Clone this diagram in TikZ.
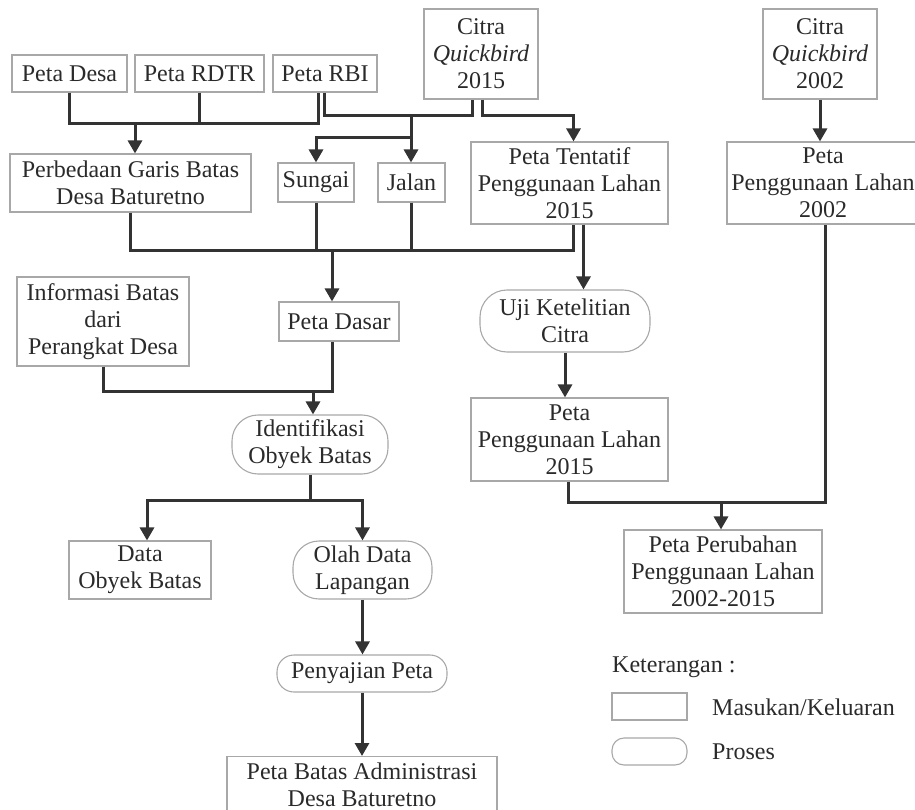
\documentclass[tikz,border=0pt]{standalone}
\usepackage{fontspec}
\setmainfont{Liberation Serif}
\usetikzlibrary{arrows.meta,calc}
\definecolor{boxc}{HTML}{A8A8A8}
\definecolor{linec}{HTML}{333333}
\definecolor{txtc}{HTML}{2A2A2A}
\begin{document}
\begin{tikzpicture}[x=1pt,y=-1pt,
  io/.style={draw=boxc, line width=1.1pt, align=center, inner sep=0pt, text=txtc,
    font=\fontsize{24}{27}\selectfont},
  pr/.style={io, rounded corners=#1},
  ln/.style={draw=linec, line width=3pt},
  arr/.style={ln, -{Triangle[length=13pt,width=14pt]}},
  lbl/.style={anchor=west, inner sep=0pt, text=txtc, font=\fontsize{24}{27}\selectfont}]
\useasboundingbox (0,0) rectangle (915,810);

% nodes
\node[io, minimum width=115, minimum height=37] (desa) at (69.5,73.5) {Peta Desa};
\node[io, minimum width=129, minimum height=37] (rdtr) at (199.5,73.5) {Peta RDTR};
\node[io, minimum width=104, minimum height=37] (rbi) at (325,73.5) {Peta RBI};
\node[io, minimum width=114, minimum height=90] (citra15) at (481,54) {Citra\\\textit{Quickbird}\\2015};
\node[io, minimum width=114, minimum height=90] (citra02) at (820,54) {Citra\\\textit{Quickbird}\\2002};
\node[io, minimum width=241, minimum height=58] (beda) at (130.5,183) {Perbedaan Garis Batas\\Desa Baturetno};
\node[io, minimum width=76, minimum height=39] (sungai) at (316,182.5) {Sungai};
\node[io, minimum width=67, minimum height=39] (jalan) at (411.5,182.5) {Jalan};
\node[io, minimum width=197, minimum height=82] (tentatif) at (569.5,183) {Peta Tentatif\\Penggunaan Lahan\\2015};
\node[io, minimum width=192, minimum height=82] (pl02) at (823,183) {Peta\\Penggunaan Lahan\\2002};
\node[io, minimum width=120, minimum height=39] (dasar) at (339,321.5) {Peta Dasar};
\node[io, minimum width=172, minimum height=89] (info) at (103,321.5) {Informasi Batas\\dari\\Perangkat Desa};
\node[pr=27pt, minimum width=170, minimum height=62] (uji) at (565,321) {Uji Ketelitian\\Citra};
\node[pr=26pt, minimum width=156, minimum height=59] (ident) at (310,444.5) {Identifikasi\\Obyek Batas};
\node[io, minimum width=197, minimum height=83] (pl15) at (569.5,439.5) {Peta\\Penggunaan Lahan\\2015};
\node[io, minimum width=142, minimum height=58] (data) at (140,570) {Data\\Obyek Batas};
\node[pr=26pt, minimum width=139, minimum height=58] (olah) at (362.5,570) {Olah Data\\Lapangan};
\node[pr=17pt, minimum width=170, minimum height=37] (saji) at (362,673.5) {Penyajian Peta};
\node[io, minimum width=270, minimum height=56, anchor=north] (admin) at (362,756) {Peta Batas Administrasi\\Desa Baturetno};
\node[io, minimum width=198, minimum height=83] (ubah) at (723,571.5) {Peta Perubahan\\Penggunaan Lahan\\2002-2015};

% legend
\node[lbl] (ket) at (612,667) {Keterangan :};
\node[io, minimum width=75, minimum height=27] (lio) at (649.5,706.5) {};
\node[pr=12pt, minimum width=75, minimum height=27] (lpr) at (649.5,751.5) {};
\node[lbl] (tio) at (712,707) {Masukan/Keluaran};
\node[lbl] (tpr) at (712,752) {Proses};

% helper coordinates
\coordinate (rbiL) at ($(rbi.south)+(-7,0)$);
\coordinate (rbiR) at ($(rbi.south)+(-1,0)$);
\coordinate (c15L) at ($(citra15.south)+(-9,0)$);
\coordinate (c15R) at ($(citra15.south)+(1,0)$);
\coordinate (tIn) at ($(tentatif.north)+(4,0)$);
\coordinate (tB1) at ($(tentatif.south)+(4,0)$);
\coordinate (tB2) at ($(tentatif.south)+(14,0)$);
\coordinate (dIn) at ($(data.north)+(7,0)$);
\coordinate (p15B) at ($(pl15.south)+(-1.5,0)$);
\coordinate (p02B) at ($(pl02.south)+(2,0)$);
\coordinate (j1) at (135,124);
\coordinate (j2) at (411,116);
\coordinate (j3) at (411,138);
\coordinate (j4) at (332,251);
\coordinate (j5) at (332,391);
\coordinate (j6) at (313,391);
\coordinate (j7) at (310,500);
\coordinate (j8) at (721,502);

% connectors
\draw[ln] (desa.south) -- (desa.south |- j1) -- (j1 -| rbiL) -- (rbiL);
\draw[ln] (rdtr.south) -- (rdtr.south |- j1);
\draw[arr] (j1) -- (j1 |- beda.north);

\draw[ln] (rbiR) -- (rbiR |- j2) -- (j2 -| c15L) -- (c15L);
\draw[arr] (j2) -- (j2 |- jalan.north);
\draw[arr] (j3) -- (j3 -| sungai.north) -- (sungai.north);
\draw[arr] (c15R) -- (c15R |- j2) -- (j2 -| tIn) -- (tIn);
\draw[arr] (citra02.south) -- (citra02.south |- pl02.north);

\draw[ln] (beda.south) -- (beda.south |- j4) -- (j4 -| tB1) -- (tB1);
\draw[ln] (sungai.south) -- (sungai.south |- j4);
\draw[ln] (jalan.south) -- (jalan.south |- j4);
\draw[arr] (j4) -- (j4 |- dasar.north);
\draw[arr] (tB2) -- (tB2 |- uji.north);

\draw[ln] (info.south) -- (info.south |- j5) -- (j5) -- (j5 |- dasar.south);
\draw[arr] (j6) -- (j6 |- ident.north);

\draw[ln] (ident.south) -- (ident.south |- j7);
\draw[arr] (j7) -- (j7 -| dIn) -- (dIn);
\draw[arr] (j7) -- (j7 -| olah.north) -- (olah.north);
\draw[arr] (olah.south) -- (olah.south |- saji.north);
\draw[arr] (saji.south) -- (saji.south |- admin.north);

\draw[arr] (uji.south) -- (uji.south |- pl15.north);
\draw[ln] (p15B) -- (p15B |- j8) -- (j8 -| p02B) -- (p02B);
\draw[arr] (j8) -- (j8 |- ubah.north);
\end{tikzpicture}
\end{document}
